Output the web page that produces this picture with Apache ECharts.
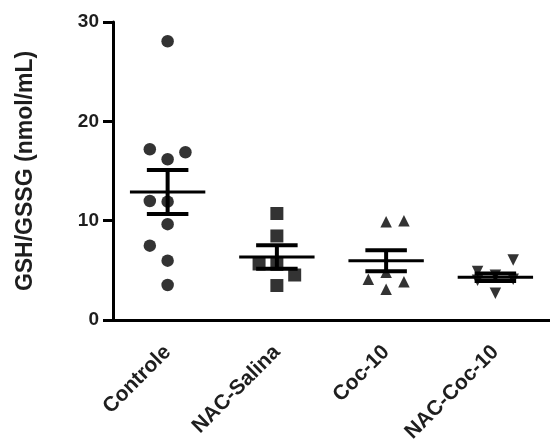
<!DOCTYPE html>
<html>
<head>
<meta charset="utf-8">
<script src="https://cdn.jsdelivr.net/npm/echarts@6/dist/echarts.min.js"></script>
<style>html,body{margin:0;padding:0;background:#fff;}#c{width:550px;height:446px;}</style>
</head>
<body>
<div id="c"></div>
<script>
var categories = ['Controle', 'NAC-Salina', 'Coc-10', 'NAC-Coc-10'];
var yTicks = [0, 10, 20, 30];

var controleValues = [28.06, 17.19, 16.89, 16.18, 11.98, 11.91, 9.65, 7.48, 5.97, 3.52];
var controleSlots  = [0, -1, 1, 0, -1, 0, 0, -1, 0, 0];

var nacSalinaValues = [10.72, 8.46, 5.64, 5.6, 4.53, 3.47];
var nacSalinaSlots  = [0, 0, -1, 0, 1, 0];

var coc10Values = [9.9, 10.0, 4.1, 4.8, 3.86, 3.09];
var coc10Slots  = [0, 1, -1, 0, 1, 0];

var nacCoc10Values = [6.04, 4.87, 4.5, 4.1, 4.0, 2.69];
var nacCoc10Slots  = [1, -1, 0, 1, -1, 0];

var groupMeans = [12.89, 6.35, 5.96, 4.3];
var groupSems  = [2.22, 1.18, 1.06, 0.38];

var JITTER = 0.163;
function pts(idx, vals, slots) {
  return vals.map(function (v, k) { return [idx + slots[k] * JITTER, v]; });
}

var symbols = ['circle', 'rect', 'triangle', 'triangle'];
var sizes = [12.5, 13, 11.5, 11.5];
var rotates = [0, 0, 0, 180];
var groups = [
  pts(0, controleValues, controleSlots),
  pts(1, nacSalinaValues, nacSalinaSlots),
  pts(2, coc10Values, coc10Slots),
  pts(3, nacCoc10Values, nacCoc10Slots)
];

var series = groups.map(function (d, i) {
  return {
    type: 'scatter', xAxisIndex: 1, data: d,
    symbol: symbols[i], symbolSize: sizes[i], symbolRotate: rotates[i],
    itemStyle: { color: '#000' }, z: 2, silent: true
  };
});

series.push({
  type: 'custom', xAxisIndex: 1, z: 3, silent: true,
  data: groupMeans.map(function (m, i) { return [i, m, groupSems[i]]; }),
  renderItem: function (params, api) {
    var x = api.value(0), m = api.value(1), s = api.value(2);
    var pm = api.coord([x, m]);
    var pu = api.coord([x, m + s]);
    var pl = api.coord([x, m - s]);
    var unit = api.size([1, 0])[0];
    var mw = unit * 0.345, cw = unit * 0.19;
    var st = { stroke: '#000', lineWidth: 3 };
    var st2 = { stroke: '#000', lineWidth: 4 };
    return {
      type: 'group',
      children: [
        { type: 'line', shape: { x1: pm[0] - mw, y1: pm[1], x2: pm[0] + mw, y2: pm[1] }, style: st },
        { type: 'line', shape: { x1: pu[0], y1: pu[1], x2: pl[0], y2: pl[1] }, style: st2 },
        { type: 'line', shape: { x1: pu[0] - cw, y1: pu[1], x2: pu[0] + cw, y2: pu[1] }, style: st2 },
        { type: 'line', shape: { x1: pl[0] - cw, y1: pl[1], x2: pl[0] + cw, y2: pl[1] }, style: st2 }
      ]
    };
  }
});

var font = 'Liberation Sans, Arial, sans-serif';
var chart = echarts.init(document.getElementById('c'), null, { renderer: 'canvas' });
chart.setOption({
  animation: false,
  backgroundColor: '#fff',
  grid: { left: 113, right: -7, top: 22, bottom: 126, containLabel: false },
  xAxis: [{
    type: 'category', data: categories, boundaryGap: true,
    axisLine: { onZero: false, lineStyle: { color: '#000', width: 3 } },
    axisTick: { alignWithLabel: true, length: 13, lineStyle: { color: '#000', width: 3 } },
    axisLabel: { rotate: 45, interval: 0, margin: 29, fontSize: 21, fontWeight: 'bold', color: '#1e1e1e', fontFamily: font },
    splitLine: { show: false }
  }, {
    type: 'value', min: -0.5, max: 3.5, show: false
  }],
  yAxis: {
    type: 'value', min: yTicks[0], max: yTicks[yTicks.length - 1], interval: 10,
    name: 'GSH/GSSG (nmol/mL)', nameLocation: 'middle', nameGap: 76,
    nameTextStyle: { fontSize: 23, fontWeight: 'bold', color: '#1e1e1e', fontFamily: font },
    axisLine: { show: true, onZero: false, lineStyle: { color: '#000', width: 3 } },
    axisTick: { show: true, length: 10, lineStyle: { color: '#000', width: 3 } },
    axisLabel: { margin: 14, fontSize: 19, fontWeight: 'bold', color: '#1e1e1e', fontFamily: font },
    splitLine: { show: false }
  },
  series: series
});
</script>
</body>
</html>
